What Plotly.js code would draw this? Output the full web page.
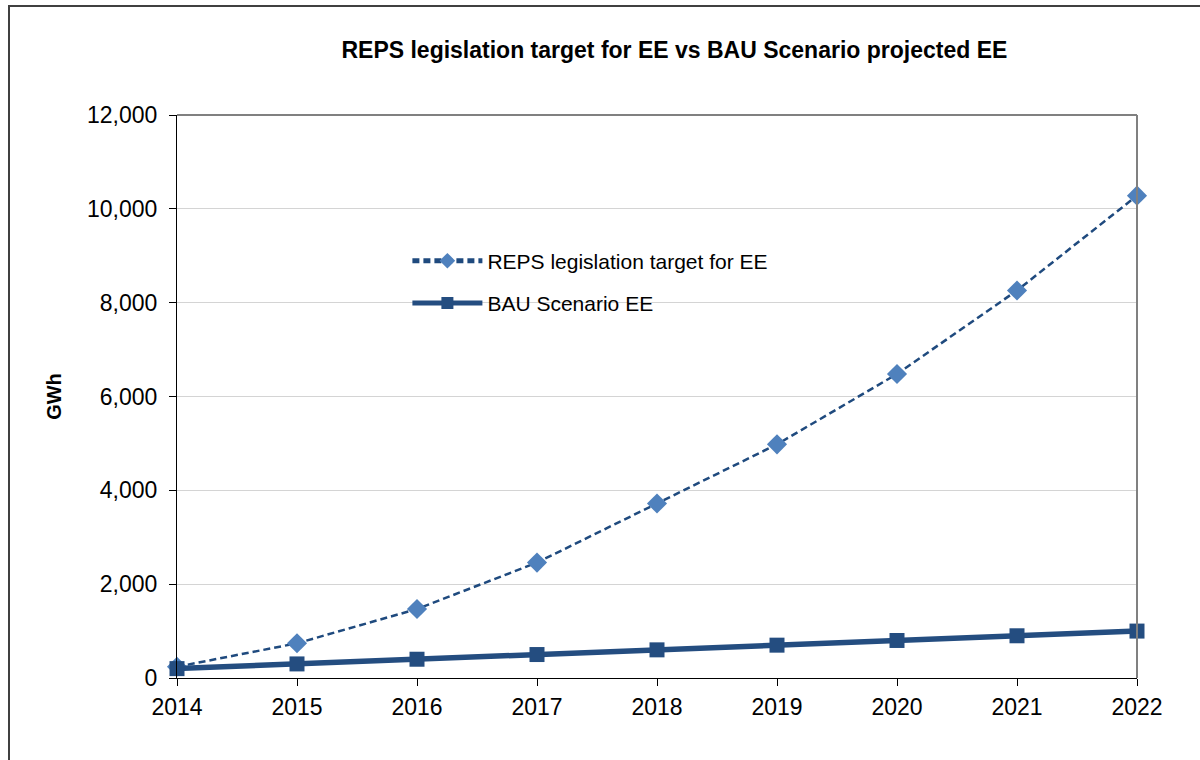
<!DOCTYPE html>
<html>
<head>
<meta charset="utf-8">
<script src="https://cdn.plot.ly/plotly-3.0.1.min.js"></script>
<style>
  html, body { margin: 0; padding: 0; background: #fff; overflow: hidden; }
  #wrap { position: relative; width: 1200px; height: 760px; overflow: hidden; }
  #chart { position: absolute; left: 0; top: 0; width: 1200px; height: 760px; }
  #frame { position: absolute; left: 8px; top: 5px; width: 1300px; height: 900px; border: 2px solid #404040; pointer-events: none; }
</style>
</head>
<body>
<div id="wrap">
  <div id="chart"></div>
  <div id="frame"></div>
</div>
<script>
const years = ['2014', '2015', '2016', '2017', '2018', '2019', '2020', '2021', '2022'];
const repsTarget = [240, 740, 1470, 2460, 3720, 4980, 6480, 8260, 10280];
const bauScenario = [200, 300, 400, 500, 600, 700, 800, 900, 1000];
const yTicks = [0, 2000, 4000, 6000, 8000, 10000, 12000];
const yTickText = ['0', '2,000', '4,000', '6,000', '8,000', '10,000', '12,000'];

const traces = [
  {
    x: years, y: repsTarget, name: 'REPS legislation target for EE',
    legendgroup: 'a',
    type: 'scatter', mode: 'lines+markers', cliponaxis: false,
    line: { color: '#1F4A7E', width: 2.5, dash: '7px,4px' },
    marker: { symbol: 'diamond', size: 15.5, color: '#4F81BD' }
  },
  {
    x: years, y: bauScenario, name: 'BAU Scenario EE',
    legendgroup: 'b',
    type: 'scatter', mode: 'lines+markers', cliponaxis: false,
    line: { color: '#244D80', width: 5.5 },
    marker: { symbol: 'square', size: 15, color: '#244D80' }
  }
];

const layout = {
  width: 1200, height: 760,
  margin: { l: 177, r: 63, t: 115, b: 82 },
  paper_bgcolor: '#ffffff', plot_bgcolor: '#ffffff',
  font: { family: 'Liberation Sans, Arial, sans-serif', color: '#000' },
  title: {
    text: '<b>REPS legislation target for EE vs BAU Scenario projected EE</b>',
    font: { size: 23, family: 'Liberation Sans, Arial, sans-serif', color: '#000' },
    x: 0.562, xanchor: 'center', y: 0.934, yanchor: 'middle'
  },
  xaxis: {
    type: 'category', range: [0, 8],
    showgrid: false, zeroline: false,
    showline: true, linecolor: '#000', linewidth: 1,
    ticks: 'outside', ticklen: 7, tickcolor: '#000',
    tickfont: { size: 23 }, ticklabelstandoff: 1
  },
  yaxis: {
    range: [0, 12000],
    tickvals: yTicks, ticktext: yTickText,
    showgrid: true, gridcolor: '#d4d4d4', gridwidth: 1,
    zeroline: false,
    showline: true, linecolor: '#000', linewidth: 1,
    ticks: 'outside', ticklen: 7, tickcolor: '#000',
    tickfont: { size: 23 }, ticklabelstandoff: 7,
    title: { text: '<b>GWh</b>', font: { size: 20 }, standoff: 20 }
  },
  shapes: [
    { type: 'line', xref: 'paper', yref: 'paper', x0: 0, x1: 1, y0: 1, y1: 1, line: { color: '#808080', width: 2 } },
    { type: 'line', xref: 'paper', yref: 'paper', x0: 1, x1: 1, y0: 0, y1: 1, line: { color: '#808080', width: 2 } }
  ],
  showlegend: true,
  legend: {
    x: 0.24, y: 0.777, xanchor: 'left', yanchor: 'top',
    bgcolor: 'rgba(0,0,0,0)', borderwidth: 0,
    font: { size: 21 }, itemwidth: 70, itemsizing: 'constant',
    traceorder: 'grouped', tracegroupgap: 12
  }
};

Plotly.newPlot('chart', traces, layout, { displayModeBar: false, staticPlot: true });
</script>
</body>
</html>
